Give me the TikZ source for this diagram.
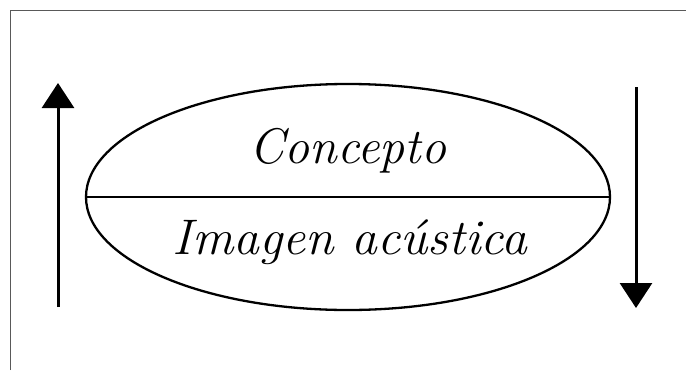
\documentclass[tikz,border=0pt]{standalone}
\usetikzlibrary{shapes.geometric,arrows.meta}
\tikzset{
  frameline/.style={draw=black!65, line width=1pt},
  ovalshape/.style={ellipse, draw, line width=2.3pt, minimum width=524pt, minimum height=226pt, inner sep=0pt},
  divider/.style={line width=2.3pt},
  flowarrow/.style={line width=3pt, -{Triangle[length=25pt,width=32pt]}},
  label/.style={anchor=base, inner sep=0pt, font=\fontsize{50}{60}\selectfont\itshape}
}
\begin{document}
\begin{tikzpicture}[x=1pt,y=-1pt]
  \useasboundingbox (0,0) rectangle (686,370);
  \coordinate (fbl) at (10,370);
  \coordinate (ftl) at (10,10);
  \coordinate (ftr) at (686,10);
  \draw[frameline] (fbl) -- (ftl) -- (ftr);
  \node[ovalshape] (oval) at (348,197) {};
  \draw[divider] (oval.west) -- (oval.east);
  \node[label] (concepto) at (348,163) {Concepto};
  \node[label, xscale=1.03] (imagen) at (350,254) {Imagen acústica};
  \coordinate (lbot) at (58,307);
  \coordinate (ltop) at (58,83);
  \coordinate (rtop) at (636,87);
  \coordinate (rbot) at (636,308);
  \draw[flowarrow] (lbot) -- (ltop);
  \draw[flowarrow] (rtop) -- (rbot);
\end{tikzpicture}
\end{document}
